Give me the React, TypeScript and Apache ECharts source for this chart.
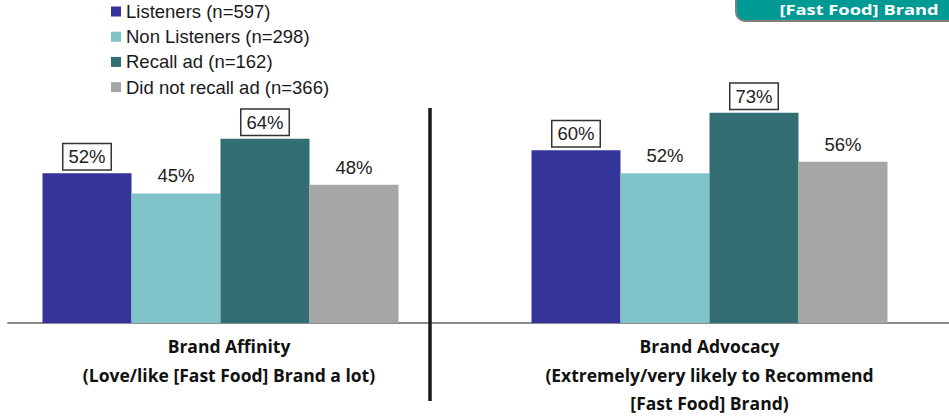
import React, { useEffect, useRef } from "react";
import * as echarts from "echarts";

const categories = [
  "Brand Affinity\n(Love/like [Fast Food] Brand a lot)",
  "Brand Advocacy\n(Extremely/very likely to Recommend\n[Fast Food] Brand)",
];
const seriesNames = [
  "Listeners (n=597)",
  "Non Listeners (n=298)",
  "Recall ad (n=162)",
  "Did not recall ad (n=366)",
];
const listeners = [52, 60];
const nonListeners = [45, 52];
const recallAd = [64, 73];
const didNotRecallAd = [48, 56];
const seriesValues = [listeners, nonListeners, recallAd, didNotRecallAd];
const seriesColors = ["#333399", "#80c4c9", "#336e73", "#a6a6a6"];
const boxed = [true, false, true, false];
const bannerText = "[Fast Food] Brand";

export default function App() {
  const ref = useRef<HTMLDivElement>(null);
  useEffect(() => {
    if (!ref.current) return;
    const chart = echarts.init(ref.current, null, { renderer: "svg" });
    const grids = [
      { left: 8, width: 425, top: 35, bottom: 94, containLabel: false, outerBoundsMode: "none" },
      { left: 433, width: 553, top: 35, bottom: 94, containLabel: false, outerBoundsMode: "none" },
    ];
    const xAxes = categories.map((c, i) => ({
      type: "category",
      gridIndex: i,
      data: [c],
      axisLine: { show: true, lineStyle: { color: "#8c8c8c", width: 2 } },
      axisTick: { show: false },
      axisLabel: {
        margin: 9,
        fontFamily: "Open Sans",
        fontWeight: "bold",
        fontSize: 17.5,
        lineHeight: 28.5,
        color: "#111",
        padding: i === 0 ? [0, 0, 0, 17] : 0,
      },
    }));
    const yAxes = categories.map((_, i) => ({
      type: "value",
      gridIndex: i,
      min: 0,
      max: 100,
      show: false,
      splitLine: { show: false },
    }));
    const series: any[] = [];
    categories.forEach((_, gi) => {
      seriesNames.forEach((name, si) => {
        series.push({
          type: "bar",
          name,
          xAxisIndex: gi,
          yAxisIndex: gi,
          barWidth: 89,
          barGap: "0%",
          itemStyle: { color: seriesColors[si] },
          data: [seriesValues[si][gi]],
          label: boxed[si]
            ? {
                show: true,
                position: "top",
                distance: 4,
                formatter: "{c}%",
                fontFamily: "Liberation Sans",
                fontSize: 18.5,
                color: "#222",
                borderColor: "#333",
                borderWidth: 1.5,
                backgroundColor: "#fff",
                padding: [3, 5, 3, 5],
              }
            : {
                show: true,
                position: "top",
                distance: 8,
                formatter: "{c}%",
                fontFamily: "Liberation Sans",
                fontSize: 18.5,
                color: "#222",
              },
        });
      });
    });
    chart.setOption({
      animation: false,
      legend: {
        orient: "vertical",
        left: 111,
        top: 2,
        padding: 0,
        itemWidth: 10,
        itemHeight: 10,
        itemGap: 6.2,
        itemStyle: { borderWidth: 0 },
        icon: "rect",
        data: seriesNames,
        selectedMode: false,
        textStyle: { fontFamily: "Liberation Sans", fontSize: 18.5, color: "#1a1a1a" },
      },
      grid: grids,
      xAxis: xAxes,
      yAxis: yAxes,
      series,
      graphic: [
        {
          type: "line",
          shape: { x1: 430, y1: 108, x2: 430, y2: 401 },
          style: { stroke: "#1a1a1a", lineWidth: 3.5 },
          z: 10,
        },
        {
          type: "rect",
          shape: { x: 736, y: -12, width: 240, height: 33, r: [0, 0, 0, 9] },
          style: { fill: "#009a95", stroke: "#808080", lineWidth: 2 },
          z: 10,
        },
        {
          type: "text",
          x: 859,
          y: 9,
          scaleX: 1.22,
          style: {
            text: bannerText,
            x: 0,
            y: 0,
            align: "center",
            verticalAlign: "middle",
            fontFamily: "Open Sans",
            fontWeight: "bold",
            fontSize: 15,
            fill: "#ffffff",
          },
          z: 11,
        },
      ],
    });
    return () => chart.dispose();
  }, []);
  return (
    <div
      ref={ref}
      style={{ position: "absolute", left: 0, top: 0, width: 949, height: 417 }}
    />
  );
}
